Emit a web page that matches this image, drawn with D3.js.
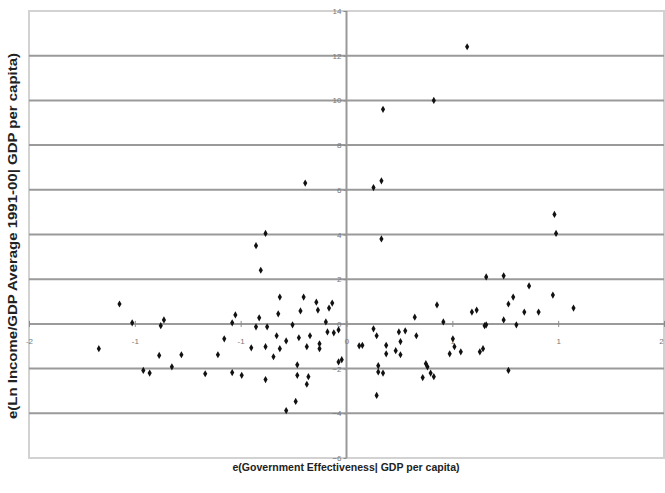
<!DOCTYPE html>
<html>
<head>
<meta charset="utf-8">
<script src="https://cdn.jsdelivr.net/npm/d3@7"></script>
<style>
  body { margin: 0; background: #fff; }
  svg { display: block; font-family: Arial, "Liberation Sans", sans-serif; }
</style>
</head>
<body>
<div id="chart"></div>
<script>
// Government effectiveness residual (x) vs income/GDP residual (y)
const xValues = [
  0.76, 0.55, 0.23, -0.26, 0.17, 0.22, 1.31, 1.32, -0.51, -0.57, 0.22, -0.54,
  -1.43, -1.35, -1.15, -1.17, -1.56, -1.18, -1.04, -1.28, -1.24, -1.10, -0.89, -0.81,
  -0.77, -0.72, -0.70, -0.72, -0.66, -0.60, -0.57, -0.55, -0.51, -0.50, -0.51, -0.46,
  -0.44, -0.43, -0.42, -0.42, -0.38, -0.38, -0.34, -0.32, -0.31, -0.31, -0.30, -0.29,
  -0.27, -0.25, -0.25, -0.24, -0.23, -0.19, -0.18, -0.17, -0.17, -0.13, -0.12, -0.11,
  -0.09, -0.08, -0.05, -0.03, -0.05,
  0.08, 0.10, 0.17, 0.19, 0.19, 0.20, 0.20, 0.23, 0.25, 0.25, 0.33, 0.34,
  0.34, 0.31, 0.37, 0.43, 0.44, 0.48, 0.50, 0.51, 0.53, 0.55, 0.57, 0.61,
  0.65, 0.67, 0.68, 0.72, 0.79, 0.82, 0.84, 0.86, 0.88, 0.87, 0.88, 0.99,
  0.99, 1.02, 1.05, 1.02, 1.07, 1.12, 1.15, 1.21, 1.30, 1.43
];
const yValues = [
  12.4, 10.0, 9.6, 6.3, 6.1, 6.4, 4.9, 4.05, 4.05, 3.5, 3.8, 2.4,
  0.89, 0.05, 0.18, -0.08, -1.11, -1.41, -1.38, -2.08, -2.2, -1.92, -2.23, -1.38,
  -0.67, 0.05, 0.4, -2.18, -2.3, -1.07, -0.13, 0.27, -1.02, -0.13, -2.49, -1.47,
  -0.53, 0.45, 1.2, -1.11, -0.76, -3.88, -0.04, -3.47, -1.83, -2.3, -0.62, 0.58,
  1.2, -1.02, -2.7, -2.36, -0.53, 0.97, 0.62, -0.89, -1.11, 0.09, -0.36, 0.71,
  0.93, -0.4, -0.27, -1.6, -1.7,
  -0.98, -0.96, -0.22, -0.53, -3.2, -1.87, -2.15, -2.2, -0.96, -1.34, -0.36, -0.79,
  -1.38, -1.2, -0.31, 0.3, -0.53, -2.4, -1.78, -1.92, -2.2, -2.36, 0.85, 0.09,
  -1.34, -0.67, -1.02, -1.25, 0.53, 0.62, -1.25, -1.11, 2.1, -0.08, -0.04, 2.15,
  0.18, 0.89, 1.2, -2.08, -0.04, 0.53, 1.7, 0.53, 1.29, 0.71
];

// axis ticks (x labels are Excel-rounded thirds)
const xTicks = [-2, -4 / 3, -2 / 3, 0, 2 / 3, 4 / 3, 2];
const xTickLabels = ["-2", "-1", "-1", "0", "1", "1", "2"];
const yTicks = [-6, -4, -2, 0, 2, 4, 6, 8, 10, 12, 14];

const xTitle = "e(Government Effectiveness| GDP per capita)";
const yTitle = "e(Ln Income/GDP Average 1991-00| GDP per capita)";

const points = xValues.map((v, i) => ({ x: v, y: yValues[i] }));

const width = 665, height = 493;
const plot = { left: 29, right: 664, top: 11, bottom: 458 };

const svg = d3.select("#chart")
  .append("svg")
  .attr("width", width)
  .attr("height", height);

const x = d3.scaleLinear().domain([-2, 2]).range([plot.left, plot.right]);
const y = d3.scaleLinear().domain([-6, 14]).range([plot.bottom, plot.top]);

// frame
svg.append("rect")
  .attr("x", plot.left)
  .attr("y", plot.top)
  .attr("width", plot.right - plot.left)
  .attr("height", plot.bottom - plot.top)
  .style("fill", "none")
  .style("stroke", "#d2d2d2")
  .style("stroke-width", 2);

// horizontal gridlines
svg.append("g")
  .selectAll("line")
  .data(yTicks.filter(d => d > -6 && d < 14))
  .enter()
  .append("line")
  .attr("x1", plot.left)
  .attr("x2", plot.right)
  .attr("y1", d => y(d))
  .attr("y2", d => y(d))
  .style("stroke", "#9a9a9a")
  .style("stroke-width", 2);

// vertical axis at x = 0
svg.append("line")
  .attr("x1", x(0))
  .attr("x2", x(0))
  .attr("y1", plot.top)
  .attr("y2", plot.bottom)
  .style("stroke", "#9a9a9a")
  .style("stroke-width", 2);

// y axis ticks + labels
const yAxis = svg.append("g")
  .attr("transform", `translate(${x(0)},0)`)
  .call(d3.axisLeft(y).tickValues(yTicks).tickSize(3).tickPadding(2))
  .style("color", "#8a8a8a");
yAxis.select(".domain").remove();
yAxis.selectAll("text")
  .style("font-size", "8px")
  .style("fill", "#777");

// x axis ticks + labels (labels sit a little below the zero line)
const xAxis = svg.append("g")
  .attr("transform", `translate(0,${y(0)})`)
  .call(d3.axisBottom(x).tickValues(xTicks).tickSize(3).tickPadding(11)
    .tickFormat((d, i) => xTickLabels[i]))
  .style("color", "#8a8a8a");
xAxis.select(".domain").remove();
xAxis.selectAll("line").attr("y1", -3);
xAxis.selectAll("text")
  .style("font-size", "8px")
  .style("fill", "#777")
  .attr("dx", (d, i) => i === xTicks.length - 1 ? -3 : 0);

// points
svg.append("g")
  .selectAll("path")
  .data(points)
  .enter()
  .append("path")
  .attr("transform", d => `translate(${x(d.x)},${y(d.y)})`)
  .attr("d", d3.symbol().type(d3.symbolDiamond).size(15))
  .style("fill", "#111");

// axis titles
svg.append("text")
  .attr("x", 346)
  .attr("y", 471)
  .attr("text-anchor", "middle")
  .attr("textLength", 227)
  .attr("lengthAdjust", "spacingAndGlyphs")
  .text(xTitle)
  .style("font-size", "10px")
  .style("font-weight", "bold")
  .style("fill", "#222");

svg.append("text")
  .attr("transform", "translate(17,236) rotate(-90)")
  .attr("text-anchor", "middle")
  .attr("textLength", 366)
  .attr("lengthAdjust", "spacingAndGlyphs")
  .text(yTitle)
  .style("font-size", "12px")
  .style("font-weight", "bold")
  .style("fill", "#222");
</script>
</body>
</html>
